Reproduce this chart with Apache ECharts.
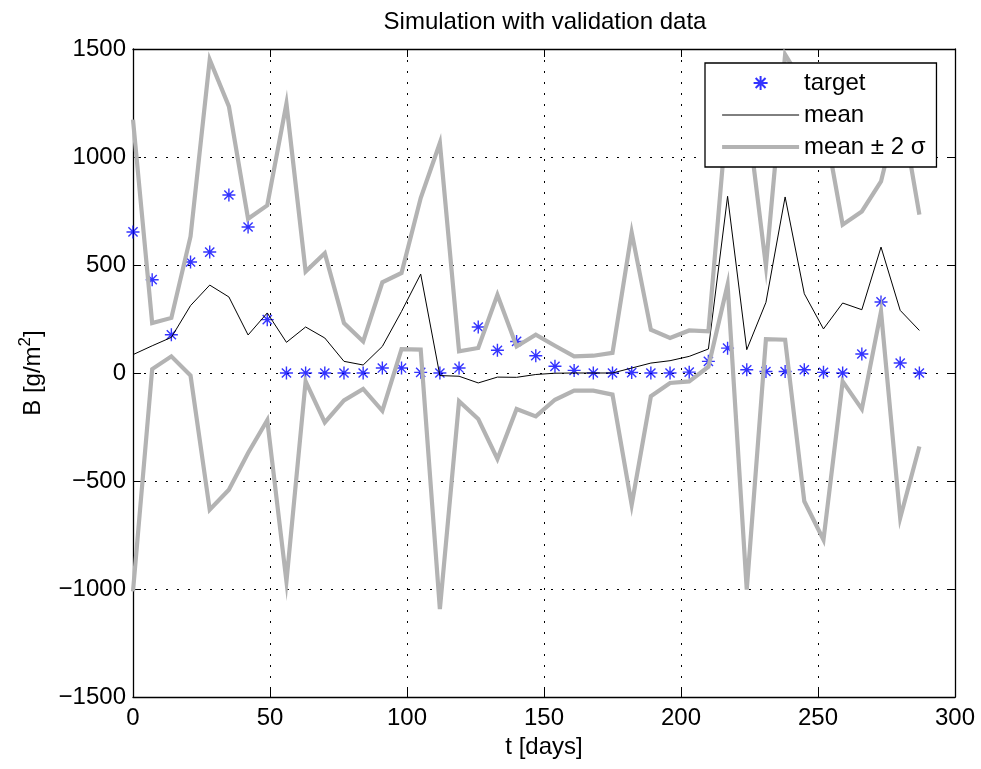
<!DOCTYPE html>
<html>
<head>
<meta charset="utf-8">
<script src="https://cdn.jsdelivr.net/npm/echarts@6/dist/echarts.min.js"></script>
<style>
html,body{margin:0;padding:0;background:#fff;}
#chart{width:981px;height:769px;}
</style>
</head>
<body>
<div id="chart"></div>
<script>
// ---- data ----
var days = [0,7,14,21,28,35,42,49,56,63,70,77,84,91,98,105,112,119,126,133,140,147,154,161,168,175,182,189,196,203,210,217,224,231,238,245,252,259,266,273,280,287];
var target = [653,432,177,514,560,824,676,247,0,0,0,0,0,23,23,3,0,23,213,105,146,80,31,12,0,0,2,0,0,4,54,115,15,7,7,15,3,0,88,329,46,0];
var meanVals = [85,126,165,312,407,352,176,278,142,213,162,54,37,123,285,458,-12,-15,-46,-19,-20,-7,-1,0,0,0,23,46,57,77,111,818,108,327,815,367,204,324,293,583,290,197];
var upperVals = [1173,231,255,632,1450,1234,714,776,1247,470,555,231,146,420,463,810,1065,100,116,362,123,177,126,77,80,93,651,200,162,197,193,1227,1219,494,1474,1328,1180,687,748,887,1251,733];
var lowerVals = [-1011,18,77,-12,-633,-540,-370,-219,-965,-39,-229,-127,-74,-175,110,108,-1093,-131,-213,-398,-167,-201,-124,-82,-82,-100,-610,-108,-46,-39,29,409,-1003,157,154,-594,-772,-39,-167,285,-671,-340];
var xTicks = {min:0, max:300, interval:50};
var yTicks = {min:-1500, max:1500, interval:500};
var titleText = 'Simulation with validation data';
var xName = 't [days]';
var seriesNames = ['target','mean','mean \u00b1 2 \u03c3'];

function pairs(xs, ys){ return xs.map(function(x,i){ return [x, ys[i]]; }); }

var FONT = '"Liberation Sans", Arial, Helvetica, sans-serif';
var star = 'path://M10,0L10,20M0,10L20,10M2.93,2.93L17.07,17.07M2.93,17.07L17.07,2.93';
var gridLine = {show:true, lineStyle:{color:'#000', width:1, type:[2,9]}};
var axisLine = {show:true, onZero:false, lineStyle:{color:'#000', width:1.3}};
var GRAY = '#b3b3b3';
var hidden = {color:'rgba(0,0,0,0)', borderColor:'rgba(0,0,0,0)', borderWidth:0, opacity:0};

var chart = echarts.init(document.getElementById('chart'), null, {renderer:'canvas'});
chart.setOption({
  animation:false,
  backgroundColor:'#fff',
  textStyle:{fontFamily:FONT},
  title:{
    text:titleText, left:545, top:10, textAlign:'center', padding:0,
    textStyle:{fontFamily:FONT, fontSize:24, fontWeight:'normal', color:'#000'}
  },
  legend:{
    data:[
      {name:seriesNames[0]},
      {name:seriesNames[1], itemStyle:hidden, lineStyle:{color:'#000', width:1, opacity:1}},
      {name:seriesNames[2], itemStyle:hidden, lineStyle:{color:GRAY, width:4.2, opacity:1}}
    ],
    orient:'vertical', left:705, top:63,
    padding:[8,11,8,15], itemWidth:77, itemHeight:14, itemGap:8,
    backgroundColor:'#fff', borderColor:'#000', borderWidth:1.3, borderRadius:0,
    textStyle:{fontFamily:FONT, fontSize:24, color:'#000'},
    selectedMode:false, z:10
  },
  grid:{left:133, top:49, right:26, bottom:72, containLabel:false},
  xAxis:[{
    type:'value', position:'bottom', min:xTicks.min, max:xTicks.max, interval:xTicks.interval,
    name:xName, nameLocation:'middle', nameGap:38,
    nameTextStyle:{fontFamily:FONT, fontSize:24, color:'#000'},
    axisLine:axisLine, axisTick:{show:true, inside:true, length:8, lineStyle:{color:'#000'}},
    axisLabel:{fontFamily:FONT, fontSize:24, color:'#000', margin:9},
    splitLine:gridLine
  },{
    type:'value', position:'top', min:xTicks.min, max:xTicks.max, interval:xTicks.interval,
    axisLine:axisLine, axisTick:{show:true, inside:true, length:8, lineStyle:{color:'#000'}},
    axisLabel:{show:false}, splitLine:{show:false}
  }],
  yAxis:[{
    type:'value', position:'left', min:yTicks.min, max:yTicks.max, interval:yTicks.interval,
    name:'{a|B [g/m}{s|2}{a|]}', nameLocation:'middle', nameGap:88, nameRotate:90,
    nameTextStyle:{fontFamily:FONT, color:'#000',
      rich:{a:{fontFamily:FONT, fontSize:24, color:'#000', lineHeight:28, verticalAlign:'bottom'},
            s:{fontFamily:FONT, fontSize:17, color:'#000', lineHeight:28, verticalAlign:'top'}}},
    axisLine:axisLine, axisTick:{show:true, inside:true, length:8, lineStyle:{color:'#000'}},
    axisLabel:{fontFamily:FONT, fontSize:24, color:'#000', margin:7,
      formatter:function(v){ return String(v).replace('-', '\u2212'); }},
    splitLine:gridLine
  },{
    type:'value', position:'right', min:yTicks.min, max:yTicks.max, interval:yTicks.interval,
    axisLine:axisLine, axisTick:{show:true, inside:true, length:8, lineStyle:{color:'#000'}},
    axisLabel:{show:false}, splitLine:{show:false}
  }],
  series:[{
    name:seriesNames[0], type:'scatter', data:pairs(days, target),
    symbol:star, symbolSize:13,
    itemStyle:{color:'rgba(0,0,0,0)', borderColor:'#0000ff', borderWidth:1.4},
    emphasis:{disabled:true}, silent:true
  },{
    name:seriesNames[1], type:'line', data:pairs(days, meanVals),
    symbol:'none', lineStyle:{color:'#000', width:1}, itemStyle:{color:'#000'},
    emphasis:{disabled:true}, silent:true
  },{
    name:seriesNames[2], type:'line', data:pairs(days, upperVals),
    symbol:'none', lineStyle:{color:GRAY, width:4.2, join:'miter'}, itemStyle:{color:GRAY},
    emphasis:{disabled:true}, silent:true
  },{
    name:seriesNames[2], type:'line', data:pairs(days, lowerVals),
    symbol:'none', lineStyle:{color:GRAY, width:4.2, join:'miter'}, itemStyle:{color:GRAY},
    emphasis:{disabled:true}, silent:true
  }]
});
</script>
</body>
</html>
